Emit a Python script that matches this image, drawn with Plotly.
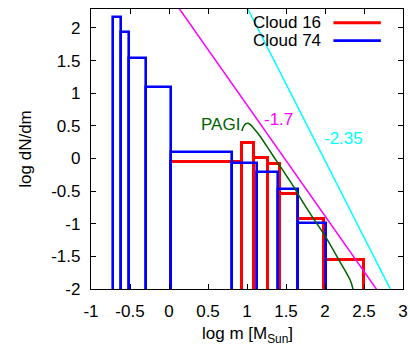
import plotly.graph_objects as go

# Mass-function histograms: bin edges (log m) and bin heights (log dN/dm)
cloud16_edges = [0.03, 0.935, 1.085, 1.265, 1.425, 1.658, 1.99, 2.495]
cloud16_heights = [-0.05, 0.235, 0.005, -0.08, -0.54, -0.93, -1.56]

cloud74_edges = [-0.714, -0.619, -0.508, -0.29, 0.02, 0.806, 1.125, 1.392, 1.65, 2.008]
cloud74_heights = [2.175, 1.935, 1.537, 1.093, 0.103, -0.07, -0.2, -0.464, -0.99]

# Reference power-law lines (two end points each)
slope17_x = [0.0, 2.8]
slope17_y = [2.519, -2.241]
slope235_x = [0.9, 3.0]
slope235_y = [2.552, -2.383]

# PAGI model mass function
pagi_x = [0.934, 0.96, 0.99, 1.02, 1.05, 1.083, 1.17, 1.255, 1.34, 1.426,
          1.512, 1.597, 1.64, 1.833, 2.004, 2.175, 2.325, 2.36, 2.4]
pagi_y = [0.42, 0.50, 0.535, 0.535, 0.51, 0.466, 0.337, 0.184, 0.03, -0.122,
          -0.276, -0.43, -0.52, -0.888, -1.194, -1.55, -1.87, -2.0, -2.1]

x_ticks = [-1, -0.5, 0, 0.5, 1, 1.5, 2, 2.5, 3]
y_ticks = [-2, -1.5, -1, -0.5, 0, 0.5, 1, 1.5, 2]

FONT = "Liberation Sans, Arial, Helvetica, sans-serif"
FS = 17
RED = "#ff0000"
BLUE = "#0000ff"
BASE = -3.0  # box bottoms sit below the visible range


def box_trace(edges, heights, color, width):
    centers = [(a + b) / 2 for a, b in zip(edges[:-1], edges[1:])]
    widths = [b - a for a, b in zip(edges[:-1], edges[1:])]
    return go.Bar(
        x=centers, y=[h - BASE for h in heights], base=BASE, width=widths,
        marker=dict(color="rgba(0,0,0,0)", line=dict(color=color, width=width)),
        showlegend=False, hoverinfo="skip",
    )


fig = go.Figure()
fig.add_trace(go.Scatter(x=slope17_x, y=slope17_y, mode="lines",
                         line=dict(color="#ff00ff", width=1.5), showlegend=False))
fig.add_trace(go.Scatter(x=slope235_x, y=slope235_y, mode="lines",
                         line=dict(color="#00ffff", width=1.5), showlegend=False))
fig.add_trace(go.Scatter(x=pagi_x, y=pagi_y, mode="lines", line_shape="spline",
                         line=dict(color="#006400", width=1.5), showlegend=False))
fig.add_trace(box_trace(cloud16_edges, cloud16_heights, RED, 3))
fig.add_trace(box_trace(cloud74_edges, cloud74_heights, BLUE, 2.6))

# Curve labels
fig.add_annotation(x=0.935, y=0.52, text="PAGI", showarrow=False, xanchor="right",
                   font=dict(color="#006400", size=FS, family=FONT))
fig.add_annotation(x=1.19, y=0.60, text="-1.7", showarrow=False, xanchor="left",
                   font=dict(color="#ff00ff", size=FS, family=FONT))
fig.add_annotation(x=1.96, y=0.30, text="-2.35", showarrow=False, xanchor="left",
                   font=dict(color="#00ffff", size=FS, family=FONT))

# Legend: text on the left, line sample on the right
for label, color, width, yp in [("Cloud 16", RED, 3, 0.951), ("Cloud 74", BLUE, 2.6, 0.887)]:
    fig.add_annotation(x=0.742, y=yp, xref="paper", yref="paper", text=label,
                       showarrow=False, xanchor="right", yanchor="middle",
                       font=dict(color="black", size=FS, family=FONT))
    fig.add_shape(type="line", xref="paper", yref="paper", x0=0.777, x1=0.929,
                  y0=yp, y1=yp, line=dict(color=color, width=width))

# x-axis title
fig.add_annotation(x=0.5, y=-0.165, xref="paper", yref="paper",
                   text="log m [M<sub>Sun</sub>]", showarrow=False,
                   xanchor="center", yanchor="middle",
                   font=dict(color="black", size=FS, family=FONT))

axis_common = dict(
    showline=True, linecolor="black", linewidth=1.3, mirror="ticks",
    ticks="inside", ticklen=5, tickcolor="black", tickwidth=1,
    showgrid=False, zeroline=False, automargin=False,
    tickfont=dict(size=FS, family=FONT, color="black"),
)

fig.update_layout(
    width=410, height=344,
    margin=dict(l=91, r=7, t=9, b=55),
    paper_bgcolor="white", plot_bgcolor="white",
    barmode="overlay", bargap=0,
    showlegend=False,
    xaxis=dict(range=[-1, 3], tickvals=x_ticks,
               ticktext=[f"{v:g}" for v in x_ticks],
               ticklabelstandoff=6, **axis_common),
    yaxis=dict(range=[-2, 2.29], tickvals=y_ticks,
               ticktext=[f"{v:g}" for v in y_ticks],
               title=dict(text="log dN/dm",
                          font=dict(size=FS, family=FONT, color="black")),
               ticklabelstandoff=6, **axis_common),
)

fig.write_html("out.html")
